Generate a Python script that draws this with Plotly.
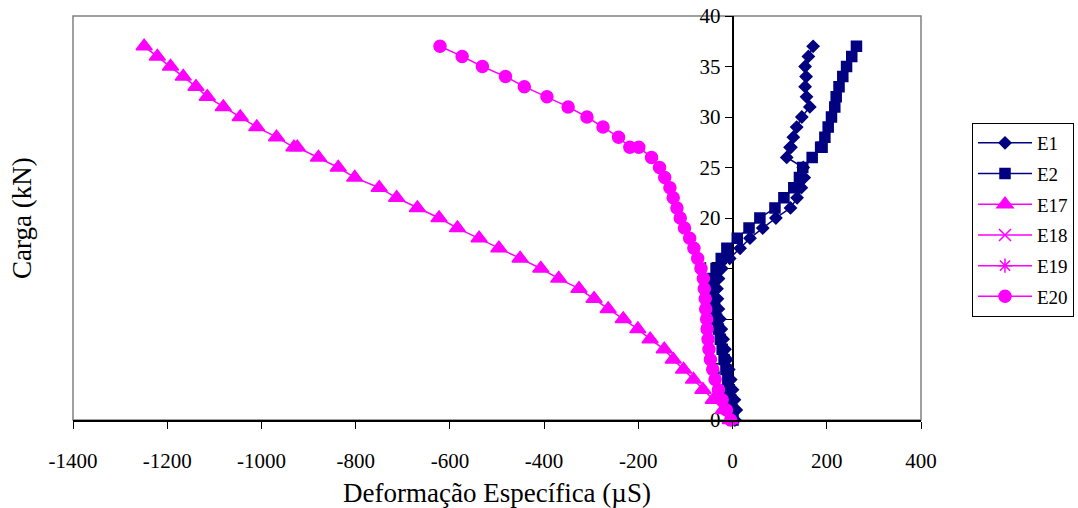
import plotly.graph_objects as go

# Load steps (kN) - shared by all gauges (the 27 kN step was held twice)
carga = [0, 1, 2, 3, 4, 5, 6, 7, 8, 9, 10, 11, 12, 13, 14, 15, 16, 17, 18, 19,
         20, 21, 22, 23, 24, 25, 26, 27, 27, 28, 29, 30, 31, 32, 33, 34, 35, 36, 37]

# Strain readings (microstrain)
e1 = [5, 8, 4, 0, -4, -8, -12, -16, -20, -24, -27, -30, -32, -33, -30, -23, -6, 16, 37, 64,
      92, 123, 137, 146, 152, 150, 115, 122, 124, 129, 136, 147, 164, 157, 154, 156, 154, 161, 171]
e2 = [1, -1, -4, -7, -10, -14, -18, -22, -26, -30, -34, -38, -42, -44, -42, -35, -24, -12, 10, 35,
      58, 90, 109, 130, 142, 149, 169, 187, 190, 196, 203, 210, 217, 220, 226, 234, 242, 253, 263]
e17 = [-5, -20, -41, -63, -83, -104, -126, -145, -175, -201, -232, -264, -294, -326, -369, -407,
       -451, -496, -538, -584, -623, -669, -713, -750, -802, -837, -879, -924, -931, -968, -1010,
       -1045, -1081, -1115, -1139, -1166, -1193, -1221, -1249]
e18 = []
e19 = []
e20 = [-4, -13, -22, -30, -37, -42, -47, -50, -52, -54, -55, -57, -58, -60, -62, -67, -74, -82,
       -91, -102, -111, -118, -126, -133, -144, -155, -172, -199, -218, -242, -275, -309, -349,
       -394, -442, -482, -531, -574, -621]

x_ticks = [-1400, -1200, -1000, -800, -600, -400, -200, 0, 200, 400]
y_ticks = [0, 5, 10, 15, 20, 25, 30, 35, 40]

NAVY = "#000080"
MAGENTA = "#FF00FF"
FONT = "Liberation Serif"

series = [
    ("E1", e1, NAVY, "diamond", 9),
    ("E2", e2, NAVY, "square", 10),
    ("E17", e17, MAGENTA, "triangle-up", 14),
    ("E18", e18, MAGENTA, "x-thin-open", 12),
    ("E19", e19, MAGENTA, "asterisk-open", 12),
    ("E20", e20, MAGENTA, "circle", 12),
]

fig = go.Figure()
for name, vals, color, sym, size in series:
    if vals:
        xs, ys = vals, carga[:len(vals)]
    else:
        xs, ys = [None], [None]
    fig.add_trace(go.Scatter(
        x=xs, y=ys, name=name, mode="lines+markers",
        line=dict(color=color, width=1.5),
        marker=dict(symbol=sym, size=size, color=color,
                    line=dict(color=color, width=1.5)),
        cliponaxis=False, legendgroup=name,
    ))

xr = [-1400, 400]
pos = (0 - xr[0]) / (xr[1] - xr[0])

fig.update_layout(
    width=1078, height=508,
    margin=dict(l=73, r=157, t=16, b=88, autoexpand=False),
    paper_bgcolor="white", plot_bgcolor="white",
    font=dict(family=FONT, color="black"),
    showlegend=True,
    legend=dict(
        x=(972 - 73) / 848, y=(420 - 123) / 404, xanchor="left", yanchor="top",
        bordercolor="black", borderwidth=1, bgcolor="white",
        font=dict(family=FONT, size=19, color="black"),
        itemwidth=54, traceorder="grouped", tracegroupgap=3,
    ),
    xaxis=dict(
        range=xr, tickvals=x_ticks, ticktext=[str(v) for v in x_ticks],
        showline=True, linecolor="black", linewidth=1.5,
        ticks="outside", ticklen=7, tickcolor="black", tickwidth=1,
        showgrid=False, zeroline=False,
        tickfont=dict(family=FONT, size=21, color="black"),
        ticklabelstandoff=14,
    ),
    yaxis=dict(
        range=[0, 40], tickvals=y_ticks, ticktext=[str(v) for v in y_ticks],
        anchor="free", position=pos,
        showline=True, linecolor="black", linewidth=1.5,
        ticks="outside", ticklen=7, tickcolor="black", tickwidth=1,
        showgrid=False, zeroline=False, layer="below traces",
        tickfont=dict(family=FONT, size=21, color="black"),
    ),
    shapes=[dict(type="rect", xref="paper", yref="paper", x0=0, x1=1, y0=0, y1=1,
                 line=dict(color="#808080", width=1.5), layer="below")],
    annotations=[
        dict(text="Carga (kN)", xref="paper", yref="paper", x=(22 - 73) / 848, y=0.5,
             textangle=-90, showarrow=False, xanchor="center", yanchor="middle",
             font=dict(family=FONT, size=27, color="black")),
        dict(text="Deformação Específica (µS)", xref="paper", yref="paper", x=0.5,
             y=(420 - 493) / 404, showarrow=False, xanchor="center", yanchor="middle",
             font=dict(family=FONT, size=27, color="black")),
    ],
)

fig.write_html(
    "out.html",
    config={"displayModeBar": False},
    post_script="document.body.style.margin='0';document.body.style.overflow='hidden';",
)
